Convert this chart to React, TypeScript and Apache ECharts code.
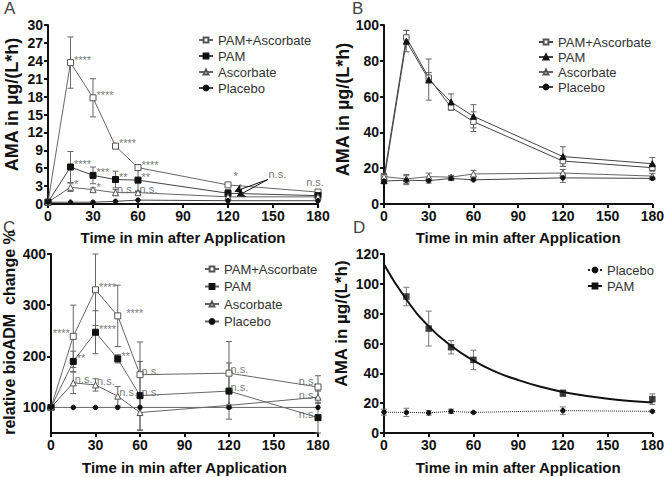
import React, { useEffect, useRef } from 'react';
import * as echarts from 'echarts';

const FONT = 'Liberation Sans, Arial, sans-serif';

// shared time points (min)
const times = [0, 15, 30, 45, 60, 120, 180];
const groupNames = ['PAM+Ascorbate', 'PAM', 'Ascorbate', 'Placebo'];

// ---- Panel A: AMA (µg/(L*h))
const aPamAsc = [0.3, 23.7, 17.8, 9.7, 6.1, 3.2, 2.0];
const aPamAscErr = [0, 4.3, 3.2, 0.3, 0.4, 0.4, 0.2];
const aPam = [0.3, 6.2, 4.8, 4.1, 4.0, 1.8, 1.4];
const aPamErr = [0, 2.6, 1.4, 1.4, 1.9, 0.6, 0.3];
const aAsc = [0.3, 2.8, 2.4, 1.9, 1.9, 1.2, 1.2];
const aAscErr = [0, 0.7, 0.3, 0.5, 0.3, 0.3, 0.2];
const aPlac = [0.3, 0.3, 0.3, 0.45, 0.65, 0.55, 0.55];
const aNotes: [number, number, string, string][] = [
  [15, 23.7, '****', 'r'], [30, 17.8, '****', 'r'], [45, 9.7, '****', 'r'], [60, 6.1, '****', 'r'],
  [120, 3.2, '*', 'tr'], [180, 2.0, 'n.s.', 't'],
  [15, 6.2, '****', 'r'], [30, 4.8, '***', 'r'], [45, 4.1, '**', 'r'], [60, 4.0, '**', 'r'],
  [15, 2.8, '*', 'r'], [30, 2.4, '*', 'r'], [45, 1.9, 'n.s.', 'rn'], [60, 1.9, 'n.s.', 'rn'],
  [146, 4.3, 'n.s.', 'rn'],
];
const aArrows: [number, number, number, number][] = [
  [146.5, 4.1, 124.5, 2.1],
  [146.5, 4.1, 126, 1.3],
];

// ---- Panel B: AMA (µg/(L*h))
const bPamAsc = [15, 93, 70.5, 54, 46, 24, 20.3];
const bPamAscErr = [2, 4, 3, 1.5, 5.5, 3, 2];
const bPam = [13, 91, 69.5, 57, 49, 26.5, 22.5];
const bPamErr = [0, 6, 11.5, 4.5, 6.5, 5.5, 3.5];
const bAsc = [15.3, 14, 15.3, 15, 16.8, 17.3, 15.6];
const bAscErr = [1.5, 2.5, 2, 1, 2, 2, 1.5];
const bPlac = [12.8, 13.3, 13, 14.3, 13.5, 14.6, 14.3];
const bPlacErr = [1, 2.5, 1.3, 1.2, 0.5, 2.5, 0.8];

// ---- Panel C: relative bioADM change %
const cPamAsc = [100, 239, 330, 279, 164, 167, 140];
const cPamAscErr = [0, 61, 70, 60, 64, 62, 22];
const cPam = [100, 190, 247, 195, 123, 132, 80];
const cPamErr = [0, 20, 42, 8, 67, 55, 30];
const cAsc = [100, 148, 144, 122, 90, 104, 120];
const cAscErr = [0, 21, 12, 19, 35, 0, 12];
const cPlac = [100, 100, 100, 100, 100, 100, 100];
const cNotes: [number, number, string, string][] = [
  [15, 239, '****', 'l'], [30, 330, '****', 'r'], [45, 279, '****', 'rr'], [60, 164, 'n.s.', 'rn'],
  [120, 167, 'n.s.', 'rn'], [180, 140, 'n.s.', 'lnh'],
  [15, 190, '**', 'r'], [30, 247, '****', 'r'], [45, 195, '**', 'r'], [60, 123, 'n.s.', 'rn'],
  [120, 132, 'n.s.', 'rn'], [180, 80, 'n.s.', 'ln'],
  [15, 148, 'n.s.', 'rn'], [30, 144, 'n.s.', 'rn'], [45, 122, 'n.s.', 'rn'], [180, 120, 'n.s.', 'lnl'],
];

// ---- Panel D: PAM with one-phase decay fit vs placebo
const dPamTimes = [15, 30, 45, 60, 120, 180];
const dPam = [91.5, 70, 57.5, 49, 26.7, 22.7];
const dPamErr = [6.2, 11.7, 4.5, 6.5, 2.2, 3.5];
const dPlac = [14, 13.8, 13.5, 14.5, 13.8, 15, 14.5];
const dPlacErr = [2, 2.8, 1.5, 1.5, 0.5, 2.5, 0.5];
const dFitTimes = [0, 15, 30, 45, 60, 75, 90, 105, 120, 135, 150, 165, 180];
const dFit = [113, 89.5, 71.5, 58.5, 48.5, 41, 35.5, 31, 27.5, 25, 23, 21.5, 20.5];

const AXIS_COLOR = '#111';

function labelFor(side: string) {
  const base: any = { show: true, fontSize: 11, color: '#555', fontFamily: FONT };
  switch (side) {
    case 'r': return { ...base, position: 'right', distance: 3, offset: [0, -3] };
    case 'rr': return { ...base, position: 'right', distance: 8, offset: [0, -3] };
    case 'rn': return { ...base, position: 'right', distance: 1, offset: [0, -4] };
    case 'l': return { ...base, position: 'left', distance: 3, offset: [0, -3] };
    case 'ln': return { ...base, position: 'left', distance: 1, offset: [0, -4] };
    case 'lnh': return { ...base, position: 'left', distance: 1, offset: [0, -6] };
    case 'lnl': return { ...base, position: 'left', distance: 1, offset: [0, -2] };
    case 't': return { ...base, position: 'top', distance: 4, offset: [-3, 0] };
    case 'tr': return { ...base, position: 'right', distance: 3, offset: [2, -9] };
    default: return base;
  }
}

function noteSeries(panel: number, notes: [number, number, string, string][], arrows?: [number, number, number, number][]) {
  const s: any = {
    type: 'scatter', xAxisIndex: panel, yAxisIndex: panel, symbolSize: 1, silent: true, z: 5,
    itemStyle: { color: 'rgba(0,0,0,0)' },
    data: notes.map(([x, y, t, side]) => ({ value: [x, y], label: { ...labelFor(side), formatter: t } })),
  };
  if (arrows) {
    s.markLine = {
      silent: true, symbol: ['none', 'arrow'], symbolSize: 8, animation: false,
      lineStyle: { color: '#111', width: 1, type: 'solid' }, label: { show: false },
      data: arrows.map(([x1, y1, x2, y2]) => [{ coord: [x1, y1] }, { coord: [x2, y2] }]),
    };
  }
  return s;
}

function errorSeries(panel: number, xs: number[], vals: number[], errs: number[], color: string) {
  const data = xs.map((x, i) => [x, vals[i] - errs[i], vals[i] + errs[i], errs[i]]).filter((d) => d[3] > 0);
  return {
    type: 'custom', xAxisIndex: panel, yAxisIndex: panel, z: 2, silent: true,
    encode: { x: 0, y: [1, 2] }, data,
    renderItem: (_p: any, api: any) => {
      const x = api.value(0);
      const lo = api.coord([x, api.value(1)]);
      const hi = api.coord([x, api.value(2)]);
      const w = 3;
      const style = { stroke: color, lineWidth: 1, fill: 'none' };
      return {
        type: 'group', children: [
          { type: 'line', shape: { x1: lo[0], y1: lo[1], x2: hi[0], y2: hi[1] }, style },
          { type: 'line', shape: { x1: hi[0] - w, y1: hi[1], x2: hi[0] + w, y2: hi[1] }, style },
          { type: 'line', shape: { x1: lo[0] - w, y1: lo[1], x2: lo[0] + w, y2: lo[1] }, style },
        ],
      };
    },
  };
}

function lineSeries(name: string, panel: number, xs: number[], vals: number[], symbol: string, size: number,
  filled: boolean, lineColor: string, extra: any = {}) {
  return {
    type: 'line', name, xAxisIndex: panel, yAxisIndex: panel,
    data: xs.map((t, i) => [t, vals[i]]),
    symbol, symbolSize: size, showSymbol: true, z: 3,
    lineStyle: { color: lineColor, width: 1 },
    itemStyle: filled ? { color: '#111', borderColor: '#111', borderWidth: 1 }
      : { color: '#fff', borderColor: '#555', borderWidth: 1 },
    ...extra,
  };
}

function xAxis(panel: number, nameGap: number) {
  return {
    type: 'value', gridIndex: panel, min: 0, max: 180, interval: 30,
    name: 'Time in min after Application', nameLocation: 'middle', nameGap,
    nameTextStyle: { fontSize: 15, fontWeight: 'bold', color: AXIS_COLOR, fontFamily: FONT },
    axisLine: { show: true, onZero: false, lineStyle: { color: AXIS_COLOR, width: 2 } },
    axisTick: { show: true, length: 4, lineStyle: { color: AXIS_COLOR, width: 2 } },
    axisLabel: { fontSize: 14, fontWeight: 'bold', color: AXIS_COLOR, margin: 5, fontFamily: FONT },
    splitLine: { show: false },
  };
}

function yAxis(panel: number, name: string, min: number, max: number, interval: number, fontSize: number, shift: number, gap: number, extra: any = {}) {
  return {
    type: 'value', gridIndex: panel, min, max, interval,
    name, nameLocation: 'middle', nameGap: gap,
    nameTextStyle: { fontSize, fontWeight: 'bold', color: AXIS_COLOR, fontFamily: FONT, padding: [0, 0, 0, shift] },
    axisLine: { show: true, onZero: false, lineStyle: { color: AXIS_COLOR, width: 2 } },
    axisTick: { show: true, length: 4, lineStyle: { color: AXIS_COLOR, width: 2 } },
    axisLabel: { fontSize: 14, fontWeight: 'bold', color: AXIS_COLOR, margin: 5, fontFamily: FONT },
    splitLine: { show: false },
    ...extra,
  };
}

function legend(prefix: string, names: string[], left: number, top: number, itemGap: number) {
  return {
    data: names.map((n) => prefix + '|' + n),
    formatter: (n: string) => n.split('|')[1],
    orient: 'vertical', left, top, itemWidth: 14, itemHeight: 6, itemGap,
    selectedMode: false,
    textStyle: { fontSize: 13, color: '#333', fontFamily: FONT, lineHeight: 14 },
  };
}

export default function App() {
  const ref = useRef<HTMLDivElement>(null);
  useEffect(() => {
    if (!ref.current) return;
    const chart = echarts.init(ref.current, undefined, { renderer: 'svg' });
    const gray = '#666';
    const dark = '#444';
    const option: any = {
      animation: false,
      backgroundColor: '#fff',
      grid: [
        { left: 48, top: 25, width: 270, height: 179 },
        { left: 384, top: 25, width: 271, height: 179 },
        { left: 48, top: 254, width: 270, height: 179 },
        { left: 384, top: 254, width: 271, height: 179 },
      ],
      xAxis: [xAxis(0, 26), xAxis(1, 26), xAxis(2, 27), xAxis(3, 27)],
      yAxis: [
        yAxis(0, 'AMA in µg/(L*h)', 0, 30, 3, 18, 20, 27),
        yAxis(1, 'AMA in µg/(L*h)', 0, 100, 20, 18, 10, 32),
        yAxis(2, 'relative bioADM  change %', 50, 400, 50, 16, 22, 34, {
          axisLabel: { fontSize: 14, fontWeight: 'bold', color: AXIS_COLOR, margin: 5, fontFamily: FONT, customValues: [100, 200, 300, 400] },
          axisTick: { show: true, length: 4, lineStyle: { color: AXIS_COLOR, width: 2 }, customValues: [100, 200, 300, 400] },
        }),
        yAxis(3, 'AMA in µg/(L*h)', 0, 120, 20, 17, 40, 34),
      ],
      legend: [
        legend('A', groupNames, 193, 28, 2),
        legend('B', groupNames, 533, 30, 1),
        legend('C', groupNames, 199, 257, 3.5),
        legend('D', ['Placebo', 'PAM'], 582, 258, 2),
      ],
      graphic: [
        { type: 'text', left: 4, top: 0, style: { text: 'A', fontSize: 17, fill: '#444', fontFamily: FONT } },
        { type: 'text', left: 352, top: 0, style: { text: 'B', fontSize: 17, fill: '#444', fontFamily: FONT } },
        { type: 'text', left: 3, top: 219, style: { text: 'C', fontSize: 17, fill: '#444', fontFamily: FONT } },
        { type: 'text', left: 353, top: 219, style: { text: 'D', fontSize: 17, fill: '#444', fontFamily: FONT } },
      ],
      series: [
        // Panel A
        errorSeries(0, times, aPamAsc, aPamAscErr, gray),
        errorSeries(0, times, aPam, aPamErr, gray),
        errorSeries(0, times, aAsc, aAscErr, gray),
        lineSeries('A|PAM+Ascorbate', 0, times, aPamAsc, 'rect', 6, false, gray),
        lineSeries('A|PAM', 0, times, aPam, 'rect', 6, true, dark),
        lineSeries('A|Ascorbate', 0, times, aAsc, 'triangle', 6, false, gray),
        lineSeries('A|Placebo', 0, times, aPlac, 'circle', 4.5, true, dark),
        noteSeries(0, aNotes, aArrows),
        // Panel B
        errorSeries(1, times, bPamAsc, bPamAscErr, gray),
        errorSeries(1, times, bPam, bPamErr, gray),
        errorSeries(1, times, bAsc, bAscErr, gray),
        errorSeries(1, times, bPlac, bPlacErr, gray),
        lineSeries('B|PAM+Ascorbate', 1, times, bPamAsc, 'rect', 5.5, false, dark),
        lineSeries('B|PAM', 1, times, bPam, 'triangle', 6, true, dark),
        lineSeries('B|Ascorbate', 1, times, bAsc, 'triangle', 6, false, gray),
        lineSeries('B|Placebo', 1, times, bPlac, 'circle', 4.5, true, dark),
        // Panel C
        errorSeries(2, times, cPamAsc, cPamAscErr, gray),
        errorSeries(2, times, cPam, cPamErr, gray),
        errorSeries(2, times, cAsc, cAscErr, gray),
        lineSeries('C|PAM+Ascorbate', 2, times, cPamAsc, 'rect', 6, false, gray),
        lineSeries('C|PAM', 2, times, cPam, 'rect', 6, true, gray),
        lineSeries('C|Ascorbate', 2, times, cAsc, 'triangle', 6, false, gray),
        lineSeries('C|Placebo', 2, times, cPlac, 'circle', 4.5, true, gray),
        noteSeries(2, cNotes),
        // Panel D
        errorSeries(3, dPamTimes, dPam, dPamErr, '#777'),
        errorSeries(3, times, dPlac, dPlacErr, '#777'),
        lineSeries('D|Placebo', 3, times, dPlac, 'circle', 4.5, true, '#222', {
          lineStyle: { color: '#222', width: 1, type: 'dotted' },
        }),
        lineSeries('D|PAM', 3, dFitTimes, dFit, 'rect', 6, true, '#111', {
          smooth: true, showSymbol: false, lineStyle: { color: '#111', width: 2 },
        }),
        {
          type: 'scatter', name: 'D PAM data', xAxisIndex: 3, yAxisIndex: 3, symbol: 'rect', symbolSize: 6.5, z: 4,
          itemStyle: { color: '#111' }, data: dPamTimes.map((t, i) => [t, dPam[i]]),
        },
      ],
    };
    chart.setOption(option);
    return () => chart.dispose();
  }, []);
  return (
    <div
      ref={ref}
      style={{ position: 'fixed', left: 0, top: 0, width: 667, height: 477, background: '#fff' }}
    />
  );
}
